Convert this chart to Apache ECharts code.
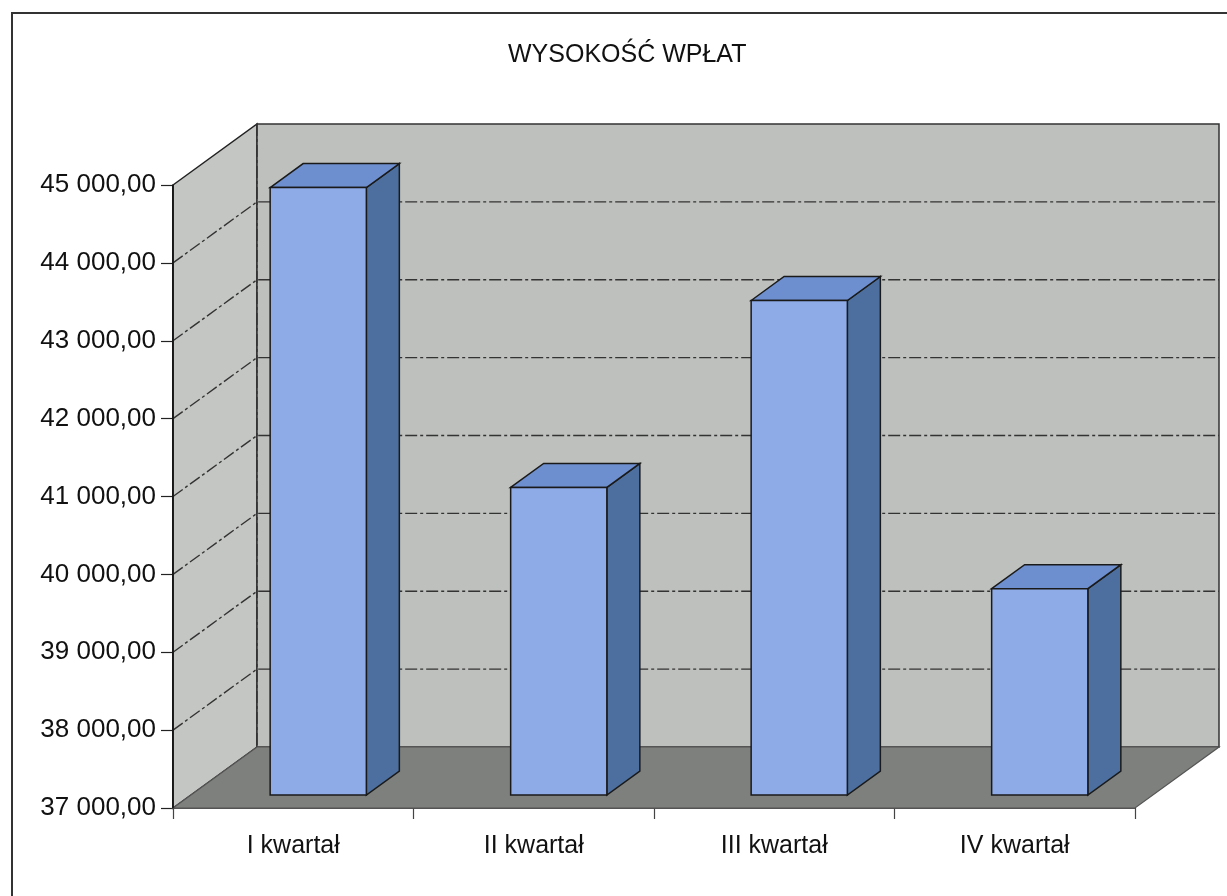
<!DOCTYPE html>
<html>
<head>
<meta charset="utf-8">
<script src="https://cdn.jsdelivr.net/npm/echarts@6/dist/echarts.min.js"></script>
<style>
  html, body { margin: 0; padding: 0; background: #fff; }
  #chart { width: 1227px; height: 896px; }
</style>
</head>
<body>
<div id="chart"></div>
<script>
// dane wykresu
const categories = ["I kwartał", "II kwartał", "III kwartał", "IV kwartał"];
const values = [44800, 40950, 43350, 39650];
const yMin = 37000;
const yMax = 45000;
const yStep = 1000;
const titleText = "WYSOKOŚĆ WPŁAT";

const FONT = "'Liberation Sans', Arial, sans-serif";
const DEPTH = [84, -61]; // przesunięcie tylnej ściany

function fmtNum(v) {
  let s = String(Math.round(v));
  s = s.replace(/\B(?=(\d{3})+(?!\d))/g, " ");
  return s + ",00";
}

// ściany i podłoga
function renderWalls(params, api) {
  const cs = params.coordSys;
  const x0 = cs.x, x1 = cs.x + cs.width;
  const yT = cs.y, yB = cs.y + cs.height;
  const dx = DEPTH[0], dy = DEPTH[1];
  const children = [];
  children.push({
    type: "polygon",
    shape: { points: [[x0, yT], [x0 + dx, yT + dy], [x0 + dx, yB + dy], [x0, yB]] },
    style: { fill: "#c4c6c3", stroke: "#222", lineWidth: 1.5 },
  });
  children.push({
    type: "rect",
    shape: { x: x0 + dx, y: yT + dy, width: x1 - x0, height: yB - yT },
    style: { fill: "#bec0bd", stroke: "#333", lineWidth: 1.5 },
  });
  for (let v = yMin + yStep; v < yMax; v += yStep) {
    const y = api.coord([0, v])[1];
    children.push({
      type: "polyline",
      shape: { points: [[x0, y], [x0 + dx, y + dy], [x1 + dx, y + dy]] },
      style: { fill: null, stroke: "#333", lineWidth: 1.4, lineDash: [12, 3, 3, 3] },
    });
  }
  children.push({
    type: "line",
    shape: { x1: x0 + dx, y1: yT + dy, x2: x0 + dx, y2: yB + dy },
    style: { stroke: "#333", lineWidth: 1.3, lineDash: [12, 3, 3, 3] },
  });
  children.push({
    type: "polygon",
    shape: { points: [[x0, yB], [x0 + dx, yB + dy], [x1 + dx, yB + dy], [x1, yB]] },
    style: { fill: "#7e807d", stroke: "#555", lineWidth: 1.2 },
  });
  children.push({
    type: "line",
    shape: { x1: x0, y1: yT, x2: x0, y2: yB },
    style: { stroke: "#111", lineWidth: 1.5 },
  });
  return { type: "group", children: children };
}

// słupki 3D
function renderBar(params, api) {
  const cat = api.value(0);
  const val = api.value(1);
  const base = api.coord([cat, yMin]);
  const top = api.coord([cat, val]);
  const bw = api.size([1, 0])[0] * 0.4;
  const x0 = base[0] + 25 - bw / 2;
  const x1 = x0 + bw;
  const yb = base[1] - 13;
  const yt = top[1] - 13;
  const dx = 33, dy = -24;
  const st = { stroke: "#1a1a1a", lineWidth: 1.5 };
  return {
    type: "group",
    children: [
      {
        type: "polygon",
        shape: { points: [[x1, yt], [x1 + dx, yt + dy], [x1 + dx, yb + dy], [x1, yb]] },
        style: Object.assign({ fill: "#4c6f9f" }, st),
      },
      {
        type: "polygon",
        shape: { points: [[x0, yt], [x0 + dx, yt + dy], [x1 + dx, yt + dy], [x1, yt]] },
        style: Object.assign({ fill: "#6e8fcf" }, st),
      },
      {
        type: "rect",
        shape: { x: x0, y: yt, width: bw, height: yb - yt },
        style: Object.assign({ fill: "#8eabe8" }, st),
      },
    ],
  };
}

const chart = echarts.init(document.getElementById("chart"));
chart.setOption({
  animation: false,
  backgroundColor: "#fff",
  title: {
    text: titleText,
    left: 503,
    top: 38,
    textStyle: { fontFamily: FONT, fontSize: 25, fontWeight: "normal", color: "#111" },
  },
  graphic: [
    {
      type: "rect",
      shape: { x: 12, y: 13, width: 1400, height: 1000 },
      style: { fill: null, stroke: "#333", lineWidth: 2 },
      silent: true,
    },
  ],
  grid: { left: 173, right: 92, top: 185, bottom: 88 },
  xAxis: {
    type: "category",
    data: categories,
    axisLine: { show: true, lineStyle: { color: "#555", width: 1.2 } },
    axisTick: { show: true, alignWithLabel: false, length: 11, lineStyle: { color: "#444", width: 1.2 } },
    axisLabel: { fontFamily: FONT, fontSize: 25, color: "#111", margin: 26 },
    splitLine: { show: false },
  },
  yAxis: {
    type: "value",
    min: yMin,
    max: yMax,
    interval: yStep,
    axisLine: { show: true, lineStyle: { color: "#111", width: 1.5 } },
    axisTick: { show: true, length: 12, lineStyle: { color: "#222", width: 1.2 } },
    axisLabel: { fontFamily: FONT, fontSize: 26, color: "#111", margin: 17, formatter: fmtNum },
    splitLine: { show: false },
  },
  series: [
    {
      type: "custom",
      clip: false,
      z: 1,
      renderItem: renderWalls,
      data: [[0, yMin]],
      silent: true,
    },
    {
      type: "custom",
      clip: false,
      z: 3,
      renderItem: renderBar,
      data: values.map((v, i) => [i, v]),
    },
  ],
});
</script>
</body>
</html>
